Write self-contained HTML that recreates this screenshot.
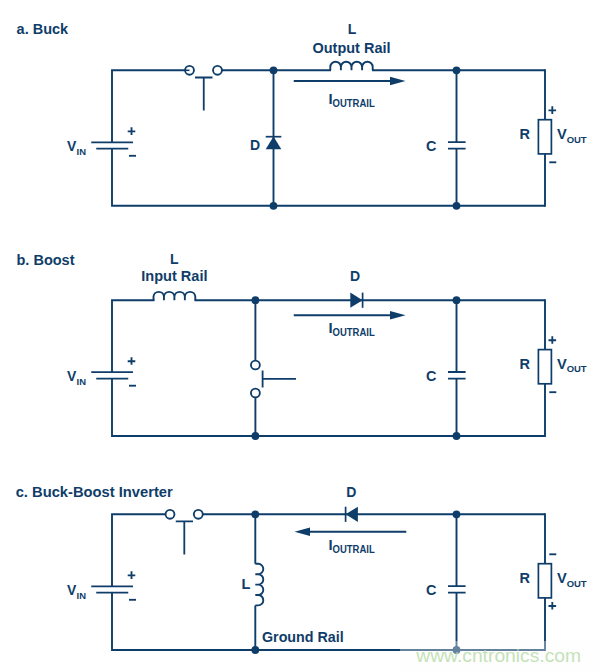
<!DOCTYPE html>
<html><head><meta charset="utf-8"><title>Buck, Boost, Buck-Boost</title>
<style>
html,body{margin:0;padding:0;background:#fff;}
body{width:600px;height:671px;overflow:hidden;font-family:"Liberation Sans",sans-serif;}
svg{display:block}
svg text{font-family:"Liberation Sans",sans-serif;fill:#0f3d69;stroke:none}
</style></head><body>
<svg width="600" height="671" viewBox="0 0 600 671">
<rect width="600" height="671" fill="#fff"/>
<g fill="none" stroke="#0f3d69" stroke-width="1.9" stroke-linecap="butt" stroke-linejoin="miter">
<text x="16.6" y="34" font-size="14.5" font-weight="bold" text-anchor="start" >a. Buck</text>
<path d="M112,142.3V70.3H189.5M217.5,70.3H545M112,148.8V205.8H545"/>
<path d="M91.25,142.3H133M96.25,148.65H128.25" stroke-width="1.8"/><path d="M127.7,131.3H135.3M131.5,127.3V134.9" stroke-width="1.85"/><path d="M129.0,155.8H136.0" stroke-width="1.85"/>
<text transform="translate(67.0,150.9) scale(0.92,1)" font-size="15.2" font-weight="bold">V</text><text transform="translate(76.53,155.30) scale(0.96,1)" font-size="9.8" font-weight="bold">IN</text>
<circle cx="189.5" cy="70.3" r="4.45" fill="#fff" stroke-width="1.85"/>
<circle cx="217.5" cy="70.3" r="4.45" fill="#fff" stroke-width="1.85"/>
<path d="M185.5,70.3H189.5" stroke-width="1.6"/>
<path d="M195,77.5H212.5M203.75,77.5V110.5" stroke-width="1.8"/>
<path d="M273.5,70.3V205.8"/>
<circle cx="273.5" cy="70.3" r="3.9" fill="#0f3d69" stroke="none"/>
<circle cx="273.5" cy="205.8" r="3.9" fill="#0f3d69" stroke="none"/>
<path d="M273.5,136.6L281.3,149.2H265.7Z" fill="#0f3d69" stroke="none"/>
<path d="M265.7,136.7H281.3" stroke-width="1.7"/>
<text x="250.0" y="149.7" font-size="14" font-weight="bold" text-anchor="start" >D</text>
<rect x="331" y="68.3" width="41" height="4" fill="#fff" stroke="none"/>
<path d="M330.30,70.3 v-3.30 a5.30,5.30 0 0 1 10.60,0 v3.30 v-3.30 a5.30,5.30 0 0 1 10.60,0 v3.30 v-3.30 a5.30,5.30 0 0 1 10.60,0 v3.30 v-3.30 a5.30,5.30 0 0 1 10.60,0 v3.30" stroke-width="1.9"/>
<text x="352" y="34.2" font-size="14" font-weight="bold" text-anchor="middle" >L</text>
<text x="351.5" y="53" font-size="14.47" font-weight="bold" text-anchor="middle" >Output Rail</text>
<path d="M293.75,81H392" stroke-width="1.9"/>
<path d="M405.5,81L390,76.8V85.2Z" fill="#0f3d69" stroke="none"/>
<text transform="translate(328.5,104) scale(0.95,1)" font-size="15.5" font-weight="bold">I</text><text transform="translate(332.59,107.00) scale(0.88,1)" font-size="10.8" font-weight="bold">OUTRAIL</text>
<path d="M456.5,70.3V142.1M456.5,148.7V205.8"/>
<path d="M448,142.1H465.6M448,148.7H465.6" stroke-width="1.8"/>
<circle cx="456.5" cy="70.3" r="3.9" fill="#0f3d69" stroke="none"/>
<circle cx="456.5" cy="205.8" r="3.9" fill="#0f3d69" stroke="none"/>
<text x="426" y="151.0" font-size="14.4" font-weight="bold" text-anchor="start" >C</text>
<path d="M545,69.35V119.7M545,153.9V206.75"/>
<rect x="538.4" y="119.7" width="13" height="34.2" fill="#fff" stroke-width="1.7"/>
<text x="519.5" y="139.3" font-size="14.5" font-weight="bold" text-anchor="start" >R</text>
<text transform="translate(557.0,139.3) scale(1.0,1)" font-size="14.6" font-weight="bold">V</text><text transform="translate(566.64,142.50) scale(0.96,1)" font-size="9.9" font-weight="bold">OUT</text>
<path d="M548.5,110.3H556.1M552.3,106.3V113.9" stroke-width="1.85"/>
<path d="M549.3,162.3H556.3" stroke-width="1.85"/>
<text x="16.5" y="264.5" font-size="14.5" font-weight="bold" text-anchor="start" >b. Boost</text>
<path d="M112,372.2V300.2H545M112,378.7V436.0H545"/>
<path d="M91.25,372.2H133M96.25,378.55H128.25" stroke-width="1.8"/><path d="M127.7,361.2H135.3M131.5,357.2V364.8" stroke-width="1.85"/><path d="M129.0,385.7H136.0" stroke-width="1.85"/>
<text transform="translate(67.0,380.8) scale(0.92,1)" font-size="15.2" font-weight="bold">V</text><text transform="translate(76.53,385.20) scale(0.96,1)" font-size="9.8" font-weight="bold">IN</text>
<rect x="154.5" y="298.2" width="40" height="4" fill="#fff" stroke="none"/>
<path d="M153.50,300.2 v-3.37 a5.23,5.23 0 0 1 10.45,0 v3.37 v-3.37 a5.23,5.23 0 0 1 10.45,0 v3.37 v-3.37 a5.23,5.23 0 0 1 10.45,0 v3.37 v-3.37 a5.23,5.23 0 0 1 10.45,0 v3.37" stroke-width="1.9"/>
<text x="174.3" y="264.4" font-size="14" font-weight="bold" text-anchor="middle" >L</text>
<text x="174.4" y="280.8" font-size="14.55" font-weight="bold" text-anchor="middle" >Input Rail</text>
<path d="M255.4,300.2V365M255.4,393V436.0"/>
<circle cx="255.4" cy="300.2" r="3.9" fill="#0f3d69" stroke="none"/>
<circle cx="255.4" cy="436.0" r="3.9" fill="#0f3d69" stroke="none"/>
<circle cx="255.4" cy="365" r="4.45" fill="#fff" stroke-width="1.85"/>
<circle cx="255.4" cy="393" r="4.45" fill="#fff" stroke-width="1.85"/>
<path d="M262.6,370.4V387.4M262.6,378.9H296" stroke-width="1.8"/>
<path d="M350.3,292.6L362.6,300.2L350.3,307.8Z" fill="#0f3d69" stroke="none"/>
<path d="M362.6,292.6V307.8" stroke-width="1.7"/>
<text x="350" y="281.4" font-size="14" font-weight="bold" text-anchor="start" >D</text>
<path d="M293.75,315.3H392" stroke-width="1.9"/>
<path d="M405.6,315.3L390,311.1V319.5Z" fill="#0f3d69" stroke="none"/>
<text transform="translate(328.5,333) scale(0.95,1)" font-size="15.5" font-weight="bold">I</text><text transform="translate(332.59,336.00) scale(0.88,1)" font-size="10.8" font-weight="bold">OUTRAIL</text>
<path d="M456.5,300.2V372.0M456.5,378.6V436.0"/>
<path d="M448,372.0H465.6M448,378.6H465.6" stroke-width="1.8"/>
<circle cx="456.5" cy="300.2" r="3.9" fill="#0f3d69" stroke="none"/>
<circle cx="456.5" cy="436.0" r="3.9" fill="#0f3d69" stroke="none"/>
<text x="426" y="380.9" font-size="14.4" font-weight="bold" text-anchor="start" >C</text>
<path d="M545,299.25V349.6M545,383.8V436.95"/>
<rect x="538.4" y="349.6" width="13" height="34.2" fill="#fff" stroke-width="1.7"/>
<text x="519.5" y="369.2" font-size="14.5" font-weight="bold" text-anchor="start" >R</text>
<text transform="translate(557.0,369.2) scale(1.0,1)" font-size="14.6" font-weight="bold">V</text><text transform="translate(566.64,372.40) scale(0.96,1)" font-size="9.9" font-weight="bold">OUT</text>
<path d="M548.5,340.2H556.1M552.3,336.2V343.8" stroke-width="1.85"/>
<path d="M549.3,392.2H556.3" stroke-width="1.85"/>
<text x="15.7" y="496.8" font-size="14.73" font-weight="bold" text-anchor="start" >c. Buck-Boost Inverter</text>
<path d="M112,586.3V514.3H170M198.3,514.3H545M112,592.8V650.0H545"/>
<path d="M91.25,586.3H133M96.25,592.65H128.25" stroke-width="1.8"/><path d="M127.7,575.3H135.3M131.5,571.3V578.9" stroke-width="1.85"/><path d="M129.0,599.8H136.0" stroke-width="1.85"/>
<text transform="translate(67.0,594.9) scale(0.92,1)" font-size="15.2" font-weight="bold">V</text><text transform="translate(76.53,599.30) scale(0.96,1)" font-size="9.8" font-weight="bold">IN</text>
<circle cx="170" cy="514.3" r="4.45" fill="#fff" stroke-width="1.85"/>
<circle cx="198.3" cy="514.3" r="4.45" fill="#fff" stroke-width="1.85"/>
<path d="M175.75,521.3H193M184.3,521.3V554.5" stroke-width="1.8"/>
<path d="M255.3,514.3V563.8M255.3,605.4V650.0"/>
<path d="M255.3,563.80 h2.80 a5.20,5.20 0 0 1 0,10.40 h-2.80 h2.80 a5.20,5.20 0 0 1 0,10.40 h-2.80 h2.80 a5.20,5.20 0 0 1 0,10.40 h-2.80 h2.80 a5.20,5.20 0 0 1 0,10.40 h-2.80" stroke-width="1.9"/>
<circle cx="255.3" cy="514.3" r="3.9" fill="#0f3d69" stroke="none"/>
<circle cx="255.3" cy="650.0" r="3.9" fill="#0f3d69" stroke="none"/>
<text x="241.6" y="589" font-size="14.5" font-weight="bold" text-anchor="start" >L</text>
<text x="262" y="642.2" font-size="14.27" font-weight="bold" text-anchor="start" >Ground Rail</text>
<path d="M357.9,506.7L345.6,514.3L357.9,521.9Z" fill="#0f3d69" stroke="none"/>
<path d="M345.6,506.7V521.9" stroke-width="1.7"/>
<text x="346.2" y="496.9" font-size="14" font-weight="bold" text-anchor="start" >D</text>
<path d="M308,531.8H406.3" stroke-width="1.9"/>
<path d="M294.5,531.8L310,527.6V536Z" fill="#0f3d69" stroke="none"/>
<text transform="translate(328.5,550) scale(0.95,1)" font-size="15.5" font-weight="bold">I</text><text transform="translate(332.59,553.00) scale(0.88,1)" font-size="10.8" font-weight="bold">OUTRAIL</text>
<path d="M456.5,514.3V586.1M456.5,592.7V650.0"/>
<path d="M448,586.1H465.6M448,592.7H465.6" stroke-width="1.8"/>
<circle cx="456.5" cy="514.3" r="3.9" fill="#0f3d69" stroke="none"/>
<circle cx="456.5" cy="650.0" r="3.9" fill="#0f3d69" stroke="none"/>
<text x="426" y="595.0" font-size="14.4" font-weight="bold" text-anchor="start" >C</text>
<path d="M545,513.35V563.7M545,597.9V650.95"/>
<rect x="538.4" y="563.7" width="13" height="34.2" fill="#fff" stroke-width="1.7"/>
<text x="519.5" y="583.3" font-size="14.5" font-weight="bold" text-anchor="start" >R</text>
<text transform="translate(557.0,583.3) scale(1.0,1)" font-size="14.6" font-weight="bold">V</text><text transform="translate(566.64,586.50) scale(0.96,1)" font-size="9.9" font-weight="bold">OUT</text>
<path d="M549.3,554.3H556.3" stroke-width="1.85"/>
<path d="M548.5,606.0H556.1M552.3,602.0V609.6" stroke-width="1.85"/>
</g>
<rect x="400" y="641" width="200" height="30" fill="#fdfdfd" opacity="0.36" stroke="none"/><text x="416.3" y="662" font-size="19.25" font-weight="normal" style="fill:#b6dca7" opacity="0.8" stroke="none">www.cntronics.com</text>
</svg>
</body></html>
